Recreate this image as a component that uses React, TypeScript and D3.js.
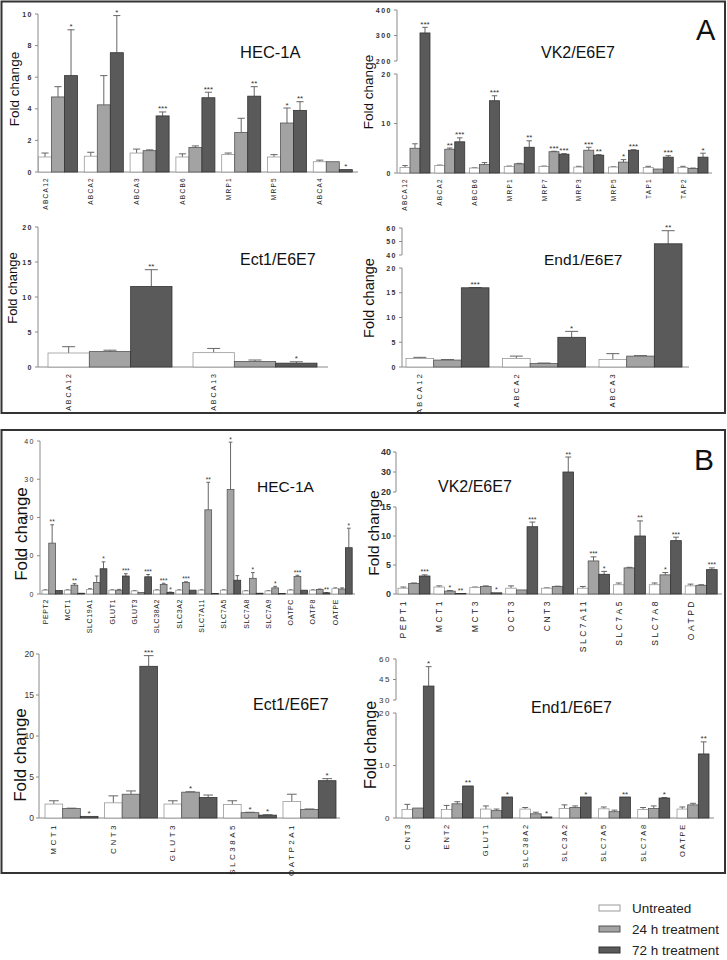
import React from 'react';
import * as d3 from 'd3';

const SERIES = ['Untreated', '24 h treatment', '72 h treatment'];
const FILLS = ['#ffffff', '#a3a3a3', '#5a5a5a'];
const STROKES = ['#9a9a9a', '#555555', '#333333'];
const FF = "'Liberation Sans', Arial, Helvetica, sans-serif";

// ---------- Panel A : HEC-1A ----------
const aHecGenes = ['ABCA12', 'ABCA2', 'ABCA3', 'ABCB6', 'MRP1', 'MRP5', 'ABCA4'];
const aHecUntr = [0.95, 1.0, 1.2, 0.95, 1.1, 0.95, 0.65];
const aHecUntrSd = [0.25, 0.25, 0.25, 0.2, 0.1, 0.15, 0.1];
const aHec24 = [4.75, 4.25, 1.35, 1.55, 2.5, 3.1, 0.65];
const aHec24Sd = [0.65, 1.85, 0.05, 0.1, 0.9, 0.95, 0];
const aHec72 = [6.1, 7.55, 3.55, 4.7, 4.8, 3.9, 0.15];
const aHec72Sd = [2.9, 2.35, 0.25, 0.35, 0.6, 0.55, 0];
const aHecSig24 = ['', '', '', '', '', '*', ''];
const aHecSig72 = ['*', '*', '***', '***', '**', '**', '*'];
const aHecTicks = [0, 2, 4, 6, 8, 10];

// ---------- Panel A : VK2/E6E7 ----------
const aVkGenes = ['ABCA12', 'ABCA2', 'ABCB6', 'MRP1', 'MRP7', 'MRP3', 'MRP5', 'TAP1', 'TAP2'];
const aVkUntr = [1.1, 1.5, 1.0, 1.3, 1.3, 1.2, 1.2, 1.1, 1.1];
const aVkUntrSd = [0.4, 0.1, 0.05, 0.1, 0.1, 0.15, 0.05, 0.25, 0.25];
const aVk24 = [5.0, 4.8, 1.7, 1.85, 4.3, 4.6, 2.2, 0.8, 0.9];
const aVk24Sd = [0.9, 0.25, 0.4, 0.1, 0.1, 0.6, 0.5, 0, 0.1];
const aVk72 = [310, 6.3, 14.6, 5.2, 3.8, 3.6, 4.6, 3.2, 3.2];
const aVk72Sd = [22, 0.8, 1.0, 1.3, 0.1, 0.1, 0.1, 0.3, 0.8];
const aVkSig24 = ['', '**', '', '', '***', '***', '*', '', ''];
const aVkSig72 = ['***', '***', '***', '**', '***', '**', '***', '***', '*'];
const aVkTicks = [0, 10, 20, 200, 300, 400];

// ---------- Panel A : Ect1/E6E7 ----------
const aEctGenes = ['ABCA12', 'ABCA13'];
const aEctUntr = [2.0, 2.05];
const aEctUntrSd = [0.9, 0.6];
const aEct24 = [2.2, 0.8];
const aEct24Sd = [0.2, 0.2];
const aEct72 = [11.5, 0.55];
const aEct72Sd = [2.4, 0.2];
const aEctSig24 = ['', ''];
const aEctSig72 = ['**', '*'];
const aEctTicks = [0, 5, 10, 15, 20];

// ---------- Panel A : End1/E6E7 ----------
const aEndGenes = ['ABCA12', 'ABCA2', 'ABCA3'];
const aEndUntr = [1.7, 1.7, 1.5];
const aEndUntrSd = [0.25, 0.5, 1.2];
const aEnd24 = [1.4, 0.7, 2.2];
const aEnd24Sd = [0.1, 0.1, 0.1];
const aEnd72 = [16.0, 6.0, 48.3];
const aEnd72Sd = [0.05, 1.2, 9.7];
const aEndSig24 = ['', '', ''];
const aEndSig72 = ['***', '*', '**'];
const aEndTicks = [0, 5, 10, 15, 20, 40, 50, 60];

// ---------- Panel B : HEC-1A ----------
const bHecGenes = ['PEPT2', 'MCT1', 'SLC19A1', 'GLUT1', 'GLUT3', 'SLC38A2', 'SLC3A2', 'SLC7A11', 'SLC7A5', 'SLC7A8', 'SLC7A9', 'OATPC', 'OATP8', 'OATPE'];
const bHecUntr = [1.0, 1.0, 1.2, 1.0, 0.8, 1.0, 1.0, 1.0, 1.0, 0.8, 0.8, 1.0, 1.0, 1.4];
const bHecUntrSd = [0.1, 0.1, 0.2, 0.1, 0.1, 0.1, 0.1, 0.1, 0.1, 0.1, 0.1, 0.1, 0.1, 0.2];
const bHec24 = [13.3, 2.3, 3.0, 1.0, 0.4, 2.5, 3.0, 22.0, 27.3, 4.1, 1.6, 4.6, 1.2, 1.3];
const bHec24Sd = [4.8, 0.4, 1.7, 0.2, 0, 0.3, 0.2, 7.2, 12.4, 1.5, 0.4, 0.3, 0.1, 0.3];
const bHec72 = [0.9, 0.2, 6.6, 4.7, 4.5, 0.4, 1.0, 0.15, 3.6, 0.2, 0.15, 1.0, 0.3, 12.1];
const bHec72Sd = [0, 0, 1.8, 0.6, 0.6, 0.1, 0, 0, 1.2, 0, 0, 0, 0.1, 5.1];
const bHecSig24 = ['**', '**', '', '', '', '***', '***', '**', '*', '*', '*', '***', '', ''];
const bHecSig72 = ['', '', '*', '***', '***', '*', '', '', '', '', '', '', '**', '*'];
const bHecTicks = [0, 10, 20, 30, 40];

// ---------- Panel B : VK2/E6E7 ----------
const bVkGenes = ['PEPT1', 'MCT1', 'MCT3', 'OCT3', 'CNT3', 'SLC7A11', 'SLC7A5', 'SLC7A8', 'OATPD'];
const bVkUntr = [1.0, 1.2, 1.1, 1.0, 1.0, 1.0, 1.6, 1.6, 1.4];
const bVkUntrSd = [0.2, 0.2, 0.1, 0.4, 0.05, 0.3, 0.3, 0.3, 0.3];
const bVk24 = [1.8, 0.5, 1.3, 0.7, 1.3, 5.7, 4.5, 3.3, 1.5];
const bVk24Sd = [0.1, 0.1, 0.1, 0, 0.05, 0.7, 0.1, 0.4, 0.1];
const bVk72 = [3.1, 0.1, 0.2, 11.6, 30, 3.4, 10.0, 9.2, 4.2];
const bVk72Sd = [0.2, 0, 0, 0.8, 7.5, 0.5, 2.6, 0.6, 0.3];
const bVkSig24 = ['', '*', '', '', '', '***', '', '*', ''];
const bVkSig72 = ['***', '**', '*', '***', '**', '*', '**', '***', '***'];
const bVkTicks = [0, 5, 10, 15, 20, 30, 40];

// ---------- Panel B : Ect1/E6E7 ----------
const bEctGenes = ['MCT1', 'CNT3', 'GLUT3', 'SLC38A5', 'OATP2A1'];
const bEctUntr = [1.7, 1.85, 1.7, 1.65, 2.0];
const bEctUntrSd = [0.4, 0.85, 0.4, 0.45, 0.9];
const bEct24 = [1.15, 2.9, 3.15, 0.65, 1.05];
const bEct24Sd = [0.05, 0.4, 0.05, 0.05, 0.05];
const bEct72 = [0.2, 18.5, 2.5, 0.35, 4.55];
const bEct72Sd = [0, 1.3, 0.3, 0.05, 0.25];
const bEctSig24 = ['', '', '*', '*', ''];
const bEctSig72 = ['*', '***', '', '*', '*'];
const bEctTicks = [0, 5, 10, 15, 20];

// ---------- Panel B : End1/E6E7 ----------
const bEndGenes = ['CNT3', 'ENT2', 'GLUT1', 'SLC38A2', 'SLC3A2', 'SLC7A5', 'SLC7A8', 'OATPE'];
const bEndUntr = [1.6, 1.6, 1.7, 1.7, 1.8, 1.75, 1.6, 1.7];
const bEndUntrSd = [1.0, 0.8, 0.6, 0.3, 0.7, 0.35, 0.4, 0.4];
const bEnd24 = [1.9, 2.7, 1.4, 0.8, 2.0, 1.2, 1.8, 2.5];
const bEnd24Sd = [0, 0.4, 0.3, 0.3, 0.3, 0.3, 0.5, 0.3];
const bEnd72 = [40.2, 6.1, 4.0, 0.2, 4.0, 4.0, 3.8, 12.2];
const bEnd72Sd = [14.2, 0, 0, 0, 0, 0, 0.1, 2.3];
const bEndSig24 = ['', '', '', '', '', '', '', ''];
const bEndSig72 = ['*', '**', '*', '*', '*', '**', '*', '**'];
const bEndTicks = [0, 10, 20, 30, 45, 60];

type Series = { values: number[]; sd: number[]; sig: string[] };
type Cfg = {
  title: string;
  genes: string[];
  series: Series[];
  ticks: number[];
  yDomain: number[];
  yRange: number[];
  axisSegs: number[][];
  axisX: number;
  axisEnd: number;
  xRange: [number, number];
  pad: number;
  titlePos: [number, number];
  titleSize: number;
  ylabPos: [number, number];
  ylabSize: number;
  tickFont: [number, number, number]; // size, weight, spacing
  labFont: [number, number]; // size, spacing
  starSize: number;
};

const noSig = (n: number) => new Array(n).fill('');

const panels: Cfg[] = [
  {
    title: 'HEC-1A', genes: aHecGenes,
    series: [
      { values: aHecUntr, sd: aHecUntrSd, sig: noSig(aHecGenes.length) },
      { values: aHec24, sd: aHec24Sd, sig: aHecSig24 },
      { values: aHec72, sd: aHec72Sd, sig: aHecSig72 },
    ],
    ticks: aHecTicks, yDomain: [0, 10], yRange: [172, 14], axisSegs: [[0, 10]],
    axisX: 38, axisEnd: 358, xRange: [38.5, 352.3], pad: 0.148,
    titlePos: [240, 58], titleSize: 16.5, ylabPos: [19, 89], ylabSize: 13.5,
    tickFont: [7, 700, 1.5], labFont: [6.5, 1.3], starSize: 8,
  },
  {
    title: 'VK2/E6E7', genes: aVkGenes,
    series: [
      { values: aVkUntr, sd: aVkUntrSd, sig: noSig(aVkGenes.length) },
      { values: aVk24, sd: aVk24Sd, sig: aVkSig24 },
      { values: aVk72, sd: aVk72Sd, sig: aVkSig72 },
    ],
    ticks: aVkTicks, yDomain: [0, 20, 200, 400], yRange: [173, 74, 61, 10], axisSegs: [[0, 20], [200, 400]],
    axisX: 397, axisEnd: 712, xRange: [400, 708], pad: 0.137,
    titlePos: [541, 58], titleSize: 16, ylabPos: [373, 92], ylabSize: 13.5,
    tickFont: [7, 700, 1.5], labFont: [6.5, 1.3], starSize: 8,
  },
  {
    title: 'Ect1/E6E7', genes: aEctGenes,
    series: [
      { values: aEctUntr, sd: aEctUntrSd, sig: noSig(aEctGenes.length) },
      { values: aEct24, sd: aEct24Sd, sig: aEctSig24 },
      { values: aEct72, sd: aEct72Sd, sig: aEctSig72 },
    ],
    ticks: aEctTicks, yDomain: [0, 20], yRange: [367, 227], axisSegs: [[0, 20]],
    axisX: 38, axisEnd: 328, xRange: [48, 317], pad: 0.145,
    titlePos: [240, 265], titleSize: 16, ylabPos: [17, 288], ylabSize: 13,
    tickFont: [7, 700, 1.5], labFont: [7, 2], starSize: 8,
  },
  {
    title: 'End1/E6E7', genes: aEndGenes,
    series: [
      { values: aEndUntr, sd: aEndUntrSd, sig: noSig(aEndGenes.length) },
      { values: aEnd24, sd: aEnd24Sd, sig: aEndSig24 },
      { values: aEnd72, sd: aEnd72Sd, sig: aEndSig72 },
    ],
    ticks: aEndTicks, yDomain: [0, 20, 40, 60], yRange: [367, 268, 255, 228], axisSegs: [[0, 20], [40, 60]],
    axisX: 402, axisEnd: 689, xRange: [406, 682], pad: 0.14,
    titlePos: [544, 265], titleSize: 15.5, ylabPos: [374, 298], ylabSize: 14.5,
    tickFont: [7, 700, 1.5], labFont: [7.5, 2.2], starSize: 8,
  },
  {
    title: 'HEC-1A', genes: bHecGenes,
    series: [
      { values: bHecUntr, sd: bHecUntrSd, sig: noSig(bHecGenes.length) },
      { values: bHec24, sd: bHec24Sd, sig: bHecSig24 },
      { values: bHec72, sd: bHec72Sd, sig: bHecSig72 },
    ],
    ticks: bHecTicks, yDomain: [0, 40], yRange: [594, 441], axisSegs: [[0, 40]],
    axisX: 40, axisEnd: 355, xRange: [42, 352.2], pad: 0.09,
    titlePos: [257, 492], titleSize: 15.5, ylabPos: [27, 534], ylabSize: 17,
    tickFont: [7, 400, 1.5], labFont: [7, 0.6], starSize: 6.5,
  },
  {
    title: 'VK2/E6E7', genes: bVkGenes,
    series: [
      { values: bVkUntr, sd: bVkUntrSd, sig: noSig(bVkGenes.length) },
      { values: bVk24, sd: bVk24Sd, sig: bVkSig24 },
      { values: bVk72, sd: bVk72Sd, sig: bVkSig72 },
    ],
    ticks: bVkTicks, yDomain: [0, 15, 20, 40], yRange: [594, 507, 492, 452], axisSegs: [[0, 15], [20, 40]],
    axisX: 396, axisEnd: 722, xRange: [398, 717.2], pad: 0.109,
    titlePos: [438, 492], titleSize: 16, ylabPos: [379, 533], ylabSize: 15.5,
    tickFont: [9, 700, 0], labFont: [8.5, 2.5], starSize: 7,
  },
  {
    title: 'Ect1/E6E7', genes: bEctGenes,
    series: [
      { values: bEctUntr, sd: bEctUntrSd, sig: noSig(bEctGenes.length) },
      { values: bEct24, sd: bEct24Sd, sig: bEctSig24 },
      { values: bEct72, sd: bEct72Sd, sig: bEctSig72 },
    ],
    ticks: bEctTicks, yDomain: [0, 20], yRange: [818, 654], axisSegs: [[0, 20]],
    axisX: 39, axisEnd: 340, xRange: [45, 336], pad: 0.109,
    titlePos: [253, 710], titleSize: 16, ylabPos: [26, 755], ylabSize: 17,
    tickFont: [8.5, 400, 0], labFont: [8, 2.5], starSize: 8,
  },
  {
    title: 'End1/E6E7', genes: bEndGenes,
    series: [
      { values: bEndUntr, sd: bEndUntrSd, sig: noSig(bEndGenes.length) },
      { values: bEnd24, sd: bEnd24Sd, sig: bEndSig24 },
      { values: bEnd72, sd: bEnd72Sd, sig: bEndSig72 },
    ],
    ticks: bEndTicks, yDomain: [0, 20, 30, 60], yRange: [818, 713, 700, 659], axisSegs: [[0, 20], [30, 60]],
    axisX: 396, axisEnd: 714, xRange: [402, 709], pad: 0.186,
    titlePos: [531, 713], titleSize: 16, ylabPos: [376, 745], ylabSize: 16,
    tickFont: [8, 400, 1.5], labFont: [7.5, 1.8], starSize: 8,
  },
];

function PanelView({ p }: { p: Cfg }) {
  const y = d3.scaleLinear().domain(p.yDomain).range(p.yRange);
  const x = d3.scaleBand<string>().domain(p.genes).range(p.xRange).paddingInner(p.pad).paddingOuter(0);
  const inner = d3.scaleBand<number>().domain([0, 1, 2]).range([0, x.bandwidth()]);
  const y0 = y(0);
  const bw = inner.bandwidth();
  const capW = Math.min(bw * 0.55, 13);
  const axisColor = '#8a8a8a';
  return (
    <g fontFamily={FF}>
      {p.axisSegs.map((s, i) => (
        <line key={'seg' + i} x1={p.axisX} x2={p.axisX} y1={y(s[0])} y2={y(s[1])} stroke={axisColor} strokeWidth={1} />
      ))}
      {p.ticks.map((t) => (
        <g key={'t' + t}>
          <line x1={p.axisX - 3} x2={p.axisX} y1={y(t)} y2={y(t)} stroke={axisColor} strokeWidth={1} />
          <text x={p.axisX - 5} y={y(t)} textAnchor="end" dominantBaseline="central" fontSize={p.tickFont[0]}
            fontWeight={p.tickFont[1]} letterSpacing={p.tickFont[2]} fill="#333">{t}</text>
        </g>
      ))}
      <line x1={p.axisX} x2={p.axisEnd} y1={y0} y2={y0} stroke={axisColor} strokeWidth={1} />
      {p.genes.map((g, i) =>
        p.series.map((s, k) => {
          const v = s.values[i];
          const sd = s.sd[i];
          const bx = (x(g) as number) + (inner(k) as number);
          const top = y(v);
          const et = y(v + sd);
          const cx = bx + bw / 2;
          return (
            <g key={g + k}>
              {sd > 0 && (
                <>
                  <line x1={cx} x2={cx} y1={top} y2={et} stroke="#666" strokeWidth={1} />
                  <line x1={cx - capW / 2} x2={cx + capW / 2} y1={et} y2={et} stroke="#666" strokeWidth={1} />
                </>
              )}
              <rect x={bx} y={top} width={bw} height={Math.max(0, y0 - top)} fill={FILLS[k]} stroke={STROKES[k]} strokeWidth={0.8} />
              {s.sig[i] && (
                <text x={cx} y={et - 0.5} textAnchor="middle" fontSize={p.starSize} fill="#333">{s.sig[i]}</text>
              )}
            </g>
          );
        })
      )}
      {p.genes.map((g) => {
        const cx = (x(g) as number) + (inner(0) as number) + bw / 2;
        return (
          <text key={'l' + g} transform={`translate(${cx},${y0 + 5}) rotate(-90)`} textAnchor="end"
            dominantBaseline="central" fontSize={p.labFont[0]} letterSpacing={p.labFont[1]} fill="#222">{g}</text>
        );
      })}
      <text x={p.titlePos[0]} y={p.titlePos[1]} fontSize={p.titleSize} fill="#111">{p.title}</text>
      <text transform={`translate(${p.ylabPos[0]},${p.ylabPos[1]}) rotate(-90)`} textAnchor="middle"
        fontSize={p.ylabSize} fill="#111">Fold change</text>
    </g>
  );
}

export default function App() {
  const legendY = d3.scaleBand<number>().domain([0, 1, 2]).range([902, 965]);
  return (
    <svg width={727} height={960} style={{ position: 'absolute', left: 0, top: 0, background: '#fff' }}>
      <rect x={0} y={0} width={727} height={960} fill="#fff" />
      <rect x={1.5} y={1.5} width={723.5} height={411.5} fill="none" stroke="#333" strokeWidth={2} />
      <rect x={1.5} y={430} width={723.5} height={443} fill="none" stroke="#333" strokeWidth={2} />
      {panels.map((p, i) => <PanelView key={i} p={p} />)}
      <text x={696} y={40} fontFamily={FF} fontSize={29} fill="#111">A</text>
      <text x={694} y={470} fontFamily={FF} fontSize={30} fill="#111">B</text>
      {SERIES.map((s, k) => {
        const yy = legendY(k) as number;
        return (
          <g key={s} fontFamily={FF}>
            <rect x={599} y={yy + 3} width={21} height={6} fill={FILLS[k]} stroke={STROKES[k]} strokeWidth={1} />
            <text x={632} y={yy + 6.5} dominantBaseline="central" fontSize={13.5} fill="#222">{s}</text>
          </g>
        );
      })}
    </svg>
  );
}
